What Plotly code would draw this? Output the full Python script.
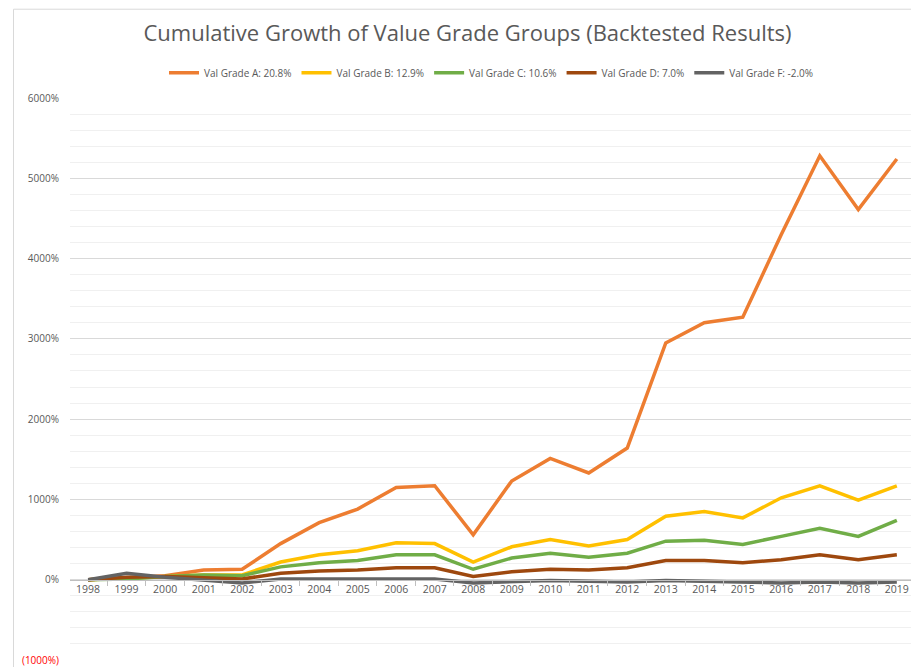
import plotly.graph_objects as go

years = [str(y) for y in range(1998, 2020)]
grade_a = [0, 30, 50, 120, 130, 450, 710, 880, 1150, 1170, 560, 1230, 1510, 1330, 1640, 2950, 3200, 3270, 4300, 5280, 4610, 5240]
grade_b = [0, 20, 40, 60, 60, 220, 310, 360, 460, 450, 220, 410, 500, 420, 500, 790, 850, 770, 1020, 1170, 990, 1170]
grade_c = [0, 10, 40, 60, 50, 160, 210, 240, 310, 310, 130, 270, 330, 280, 330, 480, 490, 440, 540, 640, 540, 740]
grade_d = [0, 30, 40, 30, 10, 80, 110, 120, 150, 150, 40, 100, 130, 120, 150, 240, 240, 210, 250, 310, 250, 310]
grade_f = [0, 80, 30, -10, -40, 10, 10, 10, 20, 10, -40, -20, -10, -20, -30, -10, -20, -40, -40, -30, -40, -30]

series = [
    ("Val Grade A: 20.8%", grade_a, "#ED7D31"),
    ("Val Grade B: 12.9%", grade_b, "#FFC000"),
    ("Val Grade C: 10.6%", grade_c, "#70AD47"),
    ("Val Grade D: 7.0%", grade_d, "#9E480E"),
    ("Val Grade F: -2.0%", grade_f, "#636363"),
]

tick_vals = [-1000, 0, 1000, 2000, 3000, 4000, 5000, 6000]
tick_text = ["<span style='color:#FF0000'>(1000%)</span>", "0%", "1000%", "2000%", "3000%", "4000%", "5000%", "6000%"]

fig = go.Figure()
for name, vals, color in series:
    fig.add_trace(go.Scatter(x=years, y=vals, name=name, mode="lines",
                             line=dict(color=color, width=3.5)))

fig.update_layout(
    width=919, height=667,
    margin=dict(l=62, r=14, t=90, b=15, autoexpand=False),
    paper_bgcolor="white", plot_bgcolor="white",
    font=dict(family="Open Sans", color="#595959", size=11),
    title=dict(text="Cumulative Growth of Value Grade Groups (Backtested Results)",
               x=0.5, xanchor="center", y=0.962, yanchor="middle",
               font=dict(size=22, color="#595959")),
    legend=dict(orientation="h", x=0.5, xanchor="center", y=1.045, yanchor="middle",
                font=dict(size=10, color="#595959"), itemwidth=30),
    showlegend=True,
    shapes=[dict(type="rect", xref="paper", yref="paper", x0=-0.067, x1=1.015,
                 y0=-0.026, y1=1.158, line=dict(color="#D9D9D9", width=1))],
)
fig.update_yaxes(range=[-1000, 6000], tickvals=tick_vals, ticktext=tick_text,
                 showgrid=True, gridcolor="#D9D9D9", zeroline=False, automargin=False,
                 minor=dict(dtick=200, showgrid=True, gridcolor="#F0F0F0"),
                 ticks="outside", ticklen=8, tickcolor="rgba(0,0,0,0)",
                 tickfont=dict(size=10, color="#595959"))
fig.update_xaxes(anchor="free", position=1/7, showline=True, linecolor="#BFBFBF",
                 range=[-0.47, 21.42], automargin=False,
                 ticks="outside", tickcolor="#BFBFBF", ticklen=5, showgrid=False,
                 tickfont=dict(size=10.5, color="#595959"), tickson="boundaries")

fig.write_html("out.html")
